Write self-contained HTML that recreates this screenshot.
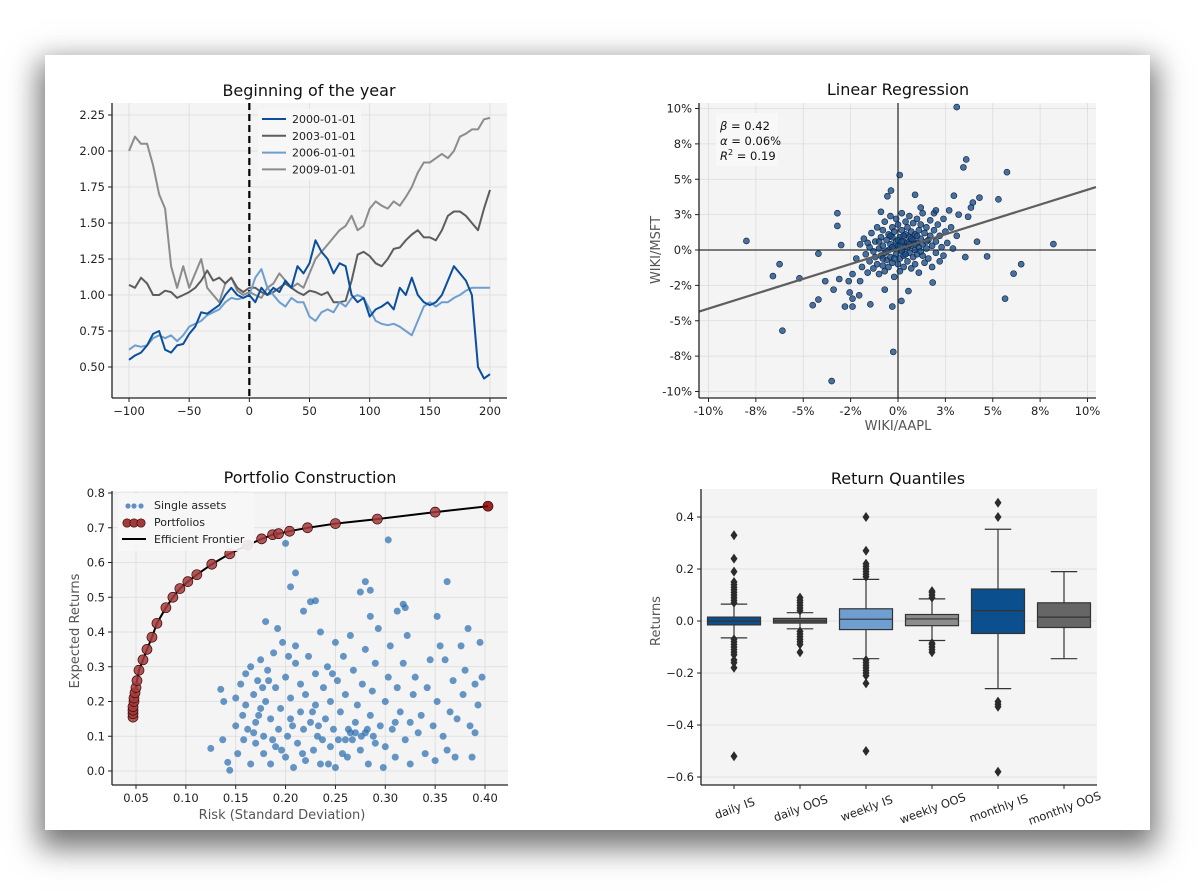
<!DOCTYPE html>
<html><head><meta charset="utf-8"><style>
html,body{margin:0;padding:0;background:#fff;width:1200px;height:893px;overflow:hidden}
#card{position:absolute;left:45px;top:55px;width:1105px;height:775px;background:#fff;box-shadow:0 12px 28px 6px rgba(0,0,0,0.55)}
svg{position:absolute;left:0;top:0}
text{font-family:"DejaVu Sans","Liberation Sans",sans-serif}
</style></head><body>
<div id="card"></div>
<svg id="fig" width="1200" height="893"></svg>
<script>
// ---------- DATA ----------
const lineX = [-100,-95,-90,-85,-80,-75,-70,-65,-60,-55,-50,-45,-40,-35,-30,-25,-20,-15,-10,-5,0,5,10,15,20,25,30,35,40,45,50,55,60,65,70,75,80,85,90,95,100,105,110,115,120,125,130,135,140,145,150,155,160,165,170,175,180,185,190,195,200];
const s2000 = [0.55,0.58,0.60,0.65,0.73,0.75,0.62,0.60,0.65,0.66,0.73,0.78,0.88,0.87,0.90,0.93,1.00,1.05,1.00,0.98,1.00,0.95,1.05,1.00,1.05,1.02,1.10,1.05,1.20,1.15,1.22,1.38,1.30,1.25,1.15,1.22,1.20,1.00,0.95,0.98,0.85,0.90,0.92,0.95,0.90,1.05,1.00,1.12,1.00,0.95,0.93,0.95,1.00,1.10,1.20,1.15,1.10,1.00,0.50,0.42,0.45];
const s2003 = [1.07,1.05,1.12,1.08,1.00,1.00,1.03,1.02,0.98,1.00,1.02,1.05,1.10,1.17,1.10,1.12,1.08,1.12,1.05,1.02,1.05,1.05,1.02,1.00,1.02,1.05,1.08,1.05,1.02,1.00,1.03,1.02,1.00,1.02,0.95,0.95,0.96,1.10,1.28,1.30,1.27,1.22,1.20,1.25,1.32,1.33,1.38,1.42,1.45,1.40,1.40,1.38,1.45,1.55,1.58,1.58,1.55,1.50,1.45,1.60,1.73];
const s2006 = [0.62,0.65,0.64,0.65,0.70,0.72,0.70,0.72,0.68,0.72,0.78,0.80,0.82,0.86,0.88,0.90,0.95,0.98,0.97,0.98,1.00,1.12,1.18,1.05,1.00,0.95,0.92,0.98,0.95,0.95,0.85,0.82,0.88,0.90,0.88,0.95,0.92,0.98,1.00,0.98,0.90,0.82,0.80,0.79,0.80,0.78,0.75,0.72,0.82,0.92,0.95,0.92,0.95,0.95,0.98,1.00,1.03,1.05,1.05,1.05,1.05];
const s2009 = [2.00,2.10,2.05,2.05,1.90,1.70,1.60,1.20,1.05,1.20,1.05,1.15,1.25,1.05,1.00,0.95,1.08,1.12,1.03,1.00,1.02,1.00,0.98,1.05,1.08,1.15,1.10,1.05,1.08,1.05,1.15,1.25,1.30,1.35,1.40,1.45,1.48,1.55,1.45,1.48,1.60,1.65,1.62,1.60,1.65,1.62,1.68,1.75,1.85,1.92,1.92,1.95,1.98,1.95,2.00,2.10,2.12,2.15,2.15,2.22,2.23];
const seriesNames = ['2000-01-01','2003-01-01','2006-01-01','2009-01-01'];
const lineXTicks = [-100,-50,0,50,100,150,200];
const lineYTicks = [0.5,0.75,1.0,1.25,1.5,1.75,2.0,2.25];

const regX = [-8.0,-6.25,-6.6,-6.1,-5.2,-4.2,-4.5,-4.2,-3.5,-3.2,-3.2,-3.0,-3.4,-2.8,-2.4,-0.25,-0.3,-0.56,-0.37,0.09,0.47,3.1,3.6,3.45,5.75,2.95,4.3,5.3,4.17,4.7,3.55,8.2,6.5,6.1,5.65,0.9,1.83,0.18,-0.7,0.55,-2.4,-2.55,-2.05,-1.46,-3.84,-3.1,-2.6,3.95,3.7,3.85,
-2.2,-2.0,-1.9,-1.8,-1.7,-1.6,-1.5,-1.5,-1.4,-1.3,-1.3,-1.2,-1.2,-1.1,-1.1,-1.0,-1.0,-0.9,-0.9,-0.8,-0.8,-0.8,-0.7,-0.7,-0.7,-0.6,-0.6,-0.5,-0.5,-0.5,-0.4,-0.4,-0.4,-0.3,-0.3,-0.3,-0.2,-0.2,-0.2,-0.1,-0.1,-0.1,0.0,0.0,0.0,0.1,0.1,0.1,0.2,0.2,0.2,0.3,0.3,0.3,0.4,0.4,0.4,0.5,0.5,0.5,0.6,0.6,0.6,0.7,0.7,0.7,0.8,0.8,0.8,0.9,0.9,0.9,1.0,1.0,1.0,1.1,1.1,1.1,1.2,1.2,1.3,1.3,1.3,1.4,1.4,1.5,1.5,1.6,1.6,1.7,1.7,1.8,1.8,1.9,1.9,2.0,2.0,2.1,2.2,2.2,2.3,2.4,2.5,2.6,2.7,2.8,2.9,3.1,3.2,0.2,-0.3,0.5,0.0,-0.6,0.9,0.3,-0.2,1.2,0.6,-1.0,0.4,0.1,0.7,-0.4,1.5,0.2,-0.8,1.0,-1.6,2.4,-2.4,-2.0,2.0,1.2,-0.9];
const regY = [0.64,-1.0,-1.84,-5.7,-2.0,-0.26,-3.9,-3.5,-9.26,2.6,1.7,0.35,-2.8,-4.0,-4.0,-7.2,-4.0,3.8,4.2,5.3,10.4,10.1,6.4,5.84,5.5,3.84,3.7,3.58,0.59,-0.45,-0.5,0.42,-1.0,-1.67,-3.44,3.9,-2.3,-3.6,-2.8,-2.9,-3.44,-3.0,-3.2,-3.84,-2.2,-2.05,-2.2,3.35,2.35,3.0,
-0.6,0.4,-1.2,0.8,-0.3,-1.6,0.2,-0.8,1.2,-0.1,-1.3,0.6,-0.5,1.6,-1.0,0.1,-1.7,0.9,-0.4,1.4,-1.1,0.3,-0.2,2.0,-1.5,0.7,-0.7,1.1,0.0,-1.2,2.4,0.4,-0.5,1.6,-0.9,0.9,0.1,-1.9,1.3,-0.3,0.6,2.2,-1.0,0.3,1.8,-0.6,0.9,-1.5,0.0,1.4,2.6,-0.4,0.6,-1.2,1.1,0.2,2.0,-0.8,0.5,1.6,-0.2,0.9,2.4,-1.3,0.3,1.3,-0.5,0.7,1.9,0.0,1.1,-1.0,0.5,2.2,-0.3,1.4,0.2,-1.6,0.8,1.8,-0.4,0.4,2.6,1.2,-0.9,0.1,1.6,0.7,-0.6,2.1,1.0,0.3,-1.2,1.4,2.6,0.6,-0.2,1.8,1.0,-0.8,0.2,2.2,1.3,0.5,2.8,1.6,0.1,1.0,2.5,-0.1,0.2,0.2,0.7,-0.1,0.4,1.0,-0.6,-0.1,0.4,0.6,-0.3,0.3,0.8,1.0,0.6,0.6,-0.6,1.0,0.5,-0.4,-1.7,-2.2,2.8,3.0,2.7];
const regBeta = 0.42;
const regAlpha = 0.06;
const regTickVals = [-10,-7.5,-5,-2.5,0,2.5,5,7.5,10];
const regTickLabels = ['-10%','-8%','-5%','-2%','0%','3%','5%','8%','10%'];

const assetRisk = [0.20,0.303,0.21,0.205,0.28,0.362,0.285,0.275,0.23,0.225,0.218,0.318,0.32,0.312,0.352,0.285,0.125,0.137,0.135,0.138,0.142,0.144,
0.15,0.15,0.152,0.155,0.157,0.16,0.16,0.162,0.165,0.165,0.168,0.17,0.17,0.172,0.175,0.175,0.178,0.178,0.18,0.18,0.182,0.185,0.185,0.188,0.19,0.19,0.192,0.193,0.195,0.197,0.2,0.2,0.202,0.205,0.205,0.208,0.21,0.21,0.212,0.215,0.215,0.218,0.22,0.22,0.223,0.225,0.228,0.23,0.23,0.232,0.235,0.235,0.238,0.24,0.242,0.245,0.245,0.248,0.25,0.25,0.252,0.255,0.258,0.26,0.26,0.262,0.265,0.265,0.268,0.27,0.272,0.275,0.277,0.28,0.28,0.283,0.285,0.287,0.29,0.29,0.293,0.295,0.298,0.3,0.3,0.303,0.305,0.307,0.31,0.312,0.315,0.318,0.32,0.322,0.325,0.325,0.328,0.33,0.333,0.336,0.34,0.342,0.345,0.348,0.35,0.352,0.355,0.358,0.36,0.362,0.365,0.368,0.37,0.372,0.376,0.378,0.38,0.383,0.385,0.387,0.39,0.39,0.393,0.395,0.397,0.173,0.183,0.196,0.203,0.227,0.237,0.247,0.257,0.263,0.27,0.276,0.282,0.288,0.267,0.158,0.168,0.177,0.187,0.207,0.217,0.233,0.243,0.253,0.31];
const assetRet = [0.655,0.665,0.57,0.53,0.545,0.545,0.52,0.515,0.49,0.487,0.46,0.48,0.47,0.46,0.445,0.445,0.065,0.09,0.235,0.2,0.025,0.002,
0.13,0.21,0.05,0.25,0.16,0.19,0.28,0.12,0.02,0.3,0.22,0.08,0.14,0.26,0.18,0.32,0.05,0.1,0.43,0.2,0.29,0.15,0.02,0.34,0.07,0.24,0.41,0.12,0.18,0.37,0.04,0.27,0.1,0.21,0.15,0.01,0.36,0.31,0.08,0.25,0.17,0.12,0.03,0.22,0.33,0.14,0.06,0.28,0.19,0.1,0.4,0.02,0.24,0.15,0.3,0.07,0.2,0.12,0.37,0.01,0.26,0.17,0.33,0.09,0.22,0.04,0.11,0.39,0.29,0.14,0.19,0.06,0.25,0.11,0.35,0.02,0.16,0.23,0.08,0.31,0.41,0.13,0.01,0.2,0.07,0.27,0.36,0.12,0.04,0.24,0.17,0.31,0.09,0.39,0.02,0.14,0.22,0.27,0.11,0.16,0.05,0.24,0.32,0.13,0.03,0.2,0.36,0.1,0.32,0.06,0.17,0.26,0.04,0.15,0.36,0.22,0.29,0.41,0.13,0.04,0.11,0.25,0.19,0.37,0.27,0.16,0.26,0.06,0.33,0.17,0.09,0.28,0.05,0.12,0.11,0.1,0.12,0.1,0.09,0.09,0.11,0.24,0.09,0.13,0.05,0.13,0.02,0.09,0.14];
const frontRisk = [0.047,0.047,0.047,0.047,0.048,0.048,0.049,0.05,0.051,0.053,0.057,0.061,0.066,0.071,0.08,0.087,0.094,0.102,0.111,0.126,0.144,0.162,0.176,0.187,0.193,0.204,0.222,0.25,0.292,0.35,0.403];
const frontRet = [0.155,0.165,0.175,0.185,0.2,0.21,0.225,0.24,0.26,0.29,0.32,0.35,0.385,0.425,0.47,0.5,0.525,0.545,0.565,0.595,0.625,0.65,0.668,0.68,0.683,0.69,0.7,0.712,0.725,0.745,0.762];
const pfXTicks = [0.05,0.10,0.15,0.20,0.25,0.30,0.35,0.40];
const pfYTicks = [0.0,0.1,0.2,0.3,0.4,0.5,0.6,0.7,0.8];

const boxCats = ['daily IS','daily OOS','weekly IS','weekly OOS','monthly IS','monthly OOS'];
const boxQ1 = [-0.015,-0.008,-0.033,-0.018,-0.048,-0.025];
const boxMed = [0.0,0.0,0.007,0.008,0.04,0.015];
const boxQ3 = [0.015,0.01,0.047,0.025,0.123,0.07];
const boxLo = [-0.065,-0.03,-0.145,-0.075,-0.26,-0.145];
const boxHi = [0.065,0.032,0.16,0.085,0.353,0.19];
const boxOut = [
 [0.07,0.08,0.09,0.1,0.11,0.12,0.13,0.14,0.15,0.19,0.24,0.33,-0.07,-0.08,-0.09,-0.1,-0.11,-0.12,-0.13,-0.15,-0.16,-0.18,-0.52],
 [0.04,0.05,0.06,0.07,0.08,0.09,-0.04,-0.05,-0.06,-0.07,-0.08,-0.09,-0.12],
 [0.17,0.18,0.19,0.2,0.21,0.22,0.27,0.40,-0.15,-0.16,-0.17,-0.18,-0.19,-0.2,-0.21,-0.24,-0.5],
 [0.09,0.1,0.11,0.115,-0.085,-0.09,-0.1,-0.11,-0.12],
 [0.40,0.455,-0.31,-0.32,-0.33,-0.58],
 []
];
const boxYTicks = [-0.6,-0.4,-0.2,0.0,0.2,0.4];

// ---------- HELPERS ----------
const NS='http://www.w3.org/2000/svg';
const svg=document.getElementById('fig');
function mk(tag,attrs,parent){const e=document.createElementNS(NS,tag);for(const k in attrs)e.setAttribute(k,attrs[k]);(parent||svg).appendChild(e);return e;}
function lin(d0,d1,r0,r1){return v=>r0+(v-d0)*(r1-r0)/(d1-d0);}
function txt(x,y,s,opts,parent){const t=mk('text',Object.assign({x:x,y:y,'font-size':11.5,fill:'#222'},opts||{}),parent);t.textContent=s;return t;}
function frame(g,L,T,R,B){
  const bg=mk('rect',{x:L,y:T,width:R-L,height:B-T,fill:'#f4f4f4'},g);
  
  
}
function spines(g,L,T,R,B){
  const a=mk('line',{x1:L,y1:T,x2:L,y2:B,stroke:'#222','stroke-width':1.3},g);
  
  
  const b=mk('line',{x1:L,y1:B,x2:R,y2:B,stroke:'#222','stroke-width':1.3},g);
  
  
}
function xticks(g,vals,labels,sx,T,B,grid){
  vals.forEach((v,i)=>{const x=sx(v);
    if(grid){const gl=mk('line',{x1:x,y1:T,x2:x,y2:B,stroke:'#dcdcdc','stroke-width':0.8},g);
      
      }
    mk('line',{x1:x,y1:B,x2:x,y2:B+4,stroke:'#222'},g);
    const t=txt(x,B+17,labels[i],{'text-anchor':'middle'},g);
    
    
  });
}
function yticks(g,vals,labels,sy,L,R,grid){
  vals.forEach((v,i)=>{const y=sy(v);
    if(grid){const gl=mk('line',{x1:L,y1:y,x2:R,y2:y,stroke:'#dcdcdc','stroke-width':0.8},g);
      
      }
    mk('line',{x1:L-4,y1:y,x2:L,y2:y,stroke:'#222'},g);
    const t=txt(L-7,y+4,labels[i],{'text-anchor':'end'},g);
    
    
  });
}
function title(g,x,y,s){const t=txt(x,y,s,{'text-anchor':'middle','font-size':16,fill:'#111'},g);
  
  }

// ---------- CHART 1: lines ----------
(function(){
  const L=112,T=103,R=507,B=398;
  const g=mk('g',{});
  
  
  frame(g,L,T,R,B);
  const sx=lin(-100,200,129,490), sy=lin(1,2.25,295,115);
  xticks(g,lineXTicks,lineXTicks.map(v=>v<0?'\u2212'+(-v):String(v)),sx,T,B,true);
  yticks(g,lineYTicks,lineYTicks.map(v=>v.toFixed(2)),sy,L,R,true);
  const dl=mk('line',{x1:sx(0),y1:T,x2:sx(0),y2:B,stroke:'#000','stroke-width':2.2,'stroke-dasharray':'7,4'},g);
  
  
  const cols=['#0b4f9c','#5d5d5d','#6e9fd0','#8c8c8c'];
  const all=[s2000,s2003,s2006,s2009];
  const order=[3,1,2,0];
  order.forEach(k=>{
    const d=lineX.map((x,i)=>(i?'L':'M')+sx(x).toFixed(1)+','+sy(all[k][i]).toFixed(1)).join('');
    const p=mk('path',{d:d,fill:'none',stroke:cols[k],'stroke-width':2,'stroke-linejoin':'round'},g);
    
    
  });
  spines(g,L,T,R,B);
  const lg=mk('g',{},g);
  
  
  mk('rect',{x:258,y:109,width:103,height:71,fill:'#f7f7f7',opacity:0.9},lg);
  seriesNames.forEach((n,i)=>{const y=119+i*16.8;
    mk('line',{x1:262,y1:y,x2:286,y2:y,stroke:cols[i],'stroke-width':2},lg);
    const t=txt(292,y+4,n,{'font-size':11},lg);
    
    });
  title(g,309,96,'Beginning of the year');
})();

// ---------- CHART 2: regression ----------
(function(){
  const L=699,T=103,R=1096,B=398;
  const g=mk('g',{});
  
  
  frame(g,L,T,R,B);
  const sx=lin(0,10,898,1087.5), sy=lin(0,10,250,108.5);
  xticks(g,regTickVals,regTickLabels,sx,T,B,true);
  yticks(g,regTickVals,regTickLabels,sy,L,R,true);
  const hx=mk('line',{x1:L,y1:sy(0),x2:R,y2:sy(0),stroke:'#333','stroke-width':1.3},g);
  
  
  const vx=mk('line',{x1:sx(0),y1:T,x2:sx(0),y2:B,stroke:'#333','stroke-width':1.3},g);
  
  
  regX.forEach((x,i)=>{
    const y=regY[i]; if(sy(y)<T) return;
    const c=mk('circle',{cx:sx(x),cy:sy(y),r:3,fill:'#174a84','fill-opacity':0.78,stroke:'#0a2040','stroke-width':0.6},g);
    
    
  });
  const x0=(L-898)/18.95, x1=(R-898)/18.95;
  const rl=mk('line',{x1:sx(x0),y1:sy(regAlpha+regBeta*x0),x2:sx(x1),y2:sy(regAlpha+regBeta*x1),stroke:'#5e5e5e','stroke-width':2.2},g);
  
  
  spines(g,L,T,R,B);
  const ab=mk('rect',{x:716,y:113,width:62,height:53,fill:'#f8f8f8',opacity:0.9},g);
  
  
  const t1=mk('text',{x:720,y:130,'font-size':11.5,fill:'#111'},g);
  t1.innerHTML='<tspan font-style="italic">β</tspan> = '+regBeta.toFixed(2);
  
  
  const t2=mk('text',{x:720,y:145,'font-size':11.5,fill:'#111'},g);
  t2.innerHTML='<tspan font-style="italic">α</tspan> = '+regAlpha.toFixed(2)+'%';
  
  
  const t3=mk('text',{x:720,y:160,'font-size':11.5,fill:'#111'},g);
  t3.innerHTML='<tspan font-style="italic">R</tspan><tspan dy="-5" font-size="8">2</tspan><tspan dy="5"> = 0.19</tspan>';
  
  
  const xl=txt(898,430,'WIKI/AAPL',{'text-anchor':'middle','font-size':13,fill:'#555'},g);
  
  
  const yl=txt(0,0,'WIKI/MSFT',{'text-anchor':'middle','font-size':13,fill:'#555',transform:'translate(660,250) rotate(-90)'},g);
  
  
  title(g,898,95,'Linear Regression');
})();

// ---------- CHART 3: portfolio ----------
(function(){
  const L=112,T=491,R=508,B=785;
  const g=mk('g',{});
  
  
  frame(g,L,T,R,B);
  const sx=lin(0.05,0.40,136,485), sy=lin(0,0.8,771,493);
  xticks(g,pfXTicks,pfXTicks.map(v=>v.toFixed(2)),sx,T,B,true);
  yticks(g,pfYTicks,pfYTicks.map(v=>v.toFixed(1)),sy,L,R,true);
  assetRisk.forEach((x,i)=>{
    const c=mk('circle',{cx:sx(x),cy:sy(assetRet[i]),r:3.5,fill:'#2d6fb0','fill-opacity':0.72},g);
    
    
  });
  const d=frontRisk.map((x,i)=>(i?'L':'M')+sx(x).toFixed(1)+','+sy(frontRet[i]).toFixed(1)).join('');
  const fl=mk('path',{d:d,fill:'none',stroke:'#000','stroke-width':2},g);
  
  
  frontRisk.forEach((x,i)=>{
    const c=mk('circle',{cx:sx(x),cy:sy(frontRet[i]),r:5,fill:i==frontRisk.length-1?'#8b0000':'#a33a3a','fill-opacity':0.85,stroke:'#3a0a0a','stroke-width':0.7},g);
    
    
  });
  spines(g,L,T,R,B);
  const lg=mk('g',{},g);
  
  
  mk('rect',{x:118,y:493,width:136,height:58,fill:'#f7f7f7',opacity:0.9},lg);
  [128,134,141].forEach(x=>mk('circle',{cx:x,cy:506,r:2.6,fill:'#2d6fb0','fill-opacity':0.75},lg));
  [127,134,141].forEach(x=>mk('circle',{cx:x,cy:523,r:4.2,fill:'#a33a3a',stroke:'#3a0a0a','stroke-width':0.7},lg));
  mk('line',{x1:122,y1:539,x2:146,y2:539,stroke:'#000','stroke-width':2},lg);
  ['Single assets','Portfolios','Efficient Frontier'].forEach((s,i)=>{
    const t=txt(154,509+i*17,s,{'font-size':11},lg);
    
    });
  const xl=txt(282,819,'Risk (Standard Deviation)',{'text-anchor':'middle','font-size':13,fill:'#555'},g);
  
  
  const yl=txt(0,0,'Expected Returns',{'text-anchor':'middle','font-size':13,fill:'#555',transform:'translate(79,631) rotate(-90)'},g);
  
  
  title(g,310,483,'Portfolio Construction');
})();

// ---------- CHART 4: boxplots ----------
(function(){
  const L=701,T=489,R=1097,B=785;
  const g=mk('g',{});
  
  
  frame(g,L,T,R,B);
  const sy=lin(0,0.4,621,517);
  const bw=(R-L)/boxCats.length;
  const cx=i=>L+bw*(i+0.5);
  yticks(g,boxYTicks,boxYTicks.map(v=>v===0?'0.0':(v<0?'\u2212'+(-v).toFixed(1):v.toFixed(1))),sy,L,R,true);
  const cols=['#0b4f8f','#5d5d5d','#6e9fd0','#8c8c8c','#0b4f8f','#666666'];
  boxCats.forEach((c,i)=>{
    const x=cx(i), w=53;
    mk('line',{x1:x,y1:B,x2:x,y2:B+4,stroke:'#222'},g);
    const t=txt(0,0,c,{'text-anchor':'middle','font-size':11.5,transform:'translate('+(x+2)+','+(B+27)+') rotate(-20)'},g);
    
    
    const wk=mk('line',{x1:x,y1:sy(boxLo[i]),x2:x,y2:sy(boxHi[i]),stroke:'#333','stroke-width':1.2},g);
    
    
    [boxLo[i],boxHi[i]].forEach(v=>mk('line',{x1:x-w/4,y1:sy(v),x2:x+w/4,y2:sy(v),stroke:'#333','stroke-width':1.2},g));
    const bx=mk('rect',{x:x-w/2,y:sy(boxQ3[i]),width:w,height:Math.max(1,sy(boxQ1[i])-sy(boxQ3[i])),fill:cols[i],stroke:'#333','stroke-width':1.2},g);
    
    
    const md=mk('line',{x1:x-w/2,y1:sy(boxMed[i]),x2:x+w/2,y2:sy(boxMed[i]),stroke:'#333','stroke-width':1.2},g);
    
    
    boxOut[i].forEach(v=>{const y=sy(v);
      const o=mk('path',{d:'M'+x+','+(y-5)+'L'+(x+3.5)+','+y+'L'+x+','+(y+5)+'L'+(x-3.5)+','+y+'Z',fill:'#2b2b2b'},g);
      
      });
  });
  spines(g,L,T,R,B);
  const yl=txt(0,0,'Returns',{'text-anchor':'middle','font-size':13,fill:'#555',transform:'translate(660,621) rotate(-90)'},g);
  
  
  title(g,898,484,'Return Quantiles');
})();
</script>
</body></html>
